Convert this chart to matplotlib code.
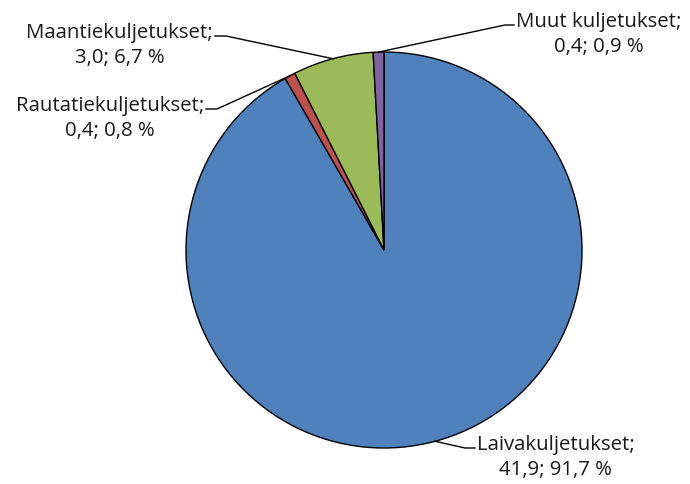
import numpy as np
import matplotlib
matplotlib.use("Agg")
from matplotlib import pyplot as plt

# Data
labels = ['Laivakuljetukset', 'Rautatiekuljetukset', 'Maantiekuljetukset', 'Muut kuljetukset']
values = [41.9, 0.4, 3.0, 0.4]
shares = ['91,7', '0,8', '6,7', '0,9']
value_text = ['41,9', '0,4', '3,0', '0,4']
colors = ['#4F81BD', '#C0504D', '#9BBB59', '#8064A2']

plt.rcParams['font.family'] = ['Open Sans', 'DejaVu Sans']

fig = plt.figure(figsize=(6.9, 4.84), dpi=100)
ax = fig.add_axes([0, 0, 1, 1])

cx, cy, r = 384, 484 - 250, 198
wedges, _ = ax.pie(values, colors=colors, startangle=90, counterclock=False,
                   center=(cx, cy), radius=r, frame=True,
                   wedgeprops=dict(edgecolor='black', linewidth=1.0))
ax.set_xlim(0, 690)
ax.set_ylim(0, 484)
ax.axis('off')

# label placement: (text anchor x, y of first line, ha, elbow x)
places = [
    (477, 484 - 445, 'left', 465),
    (204, 484 - 106, 'right', 217),
    (213, 484 - 33, 'right', 226),
    (516, 484 - 22, 'left', 505),
]

for w, lab, val, sh, (tx, ty, ha, ex) in zip(wedges, labels, value_text, shares, places):
    mid = np.deg2rad((w.theta1 + w.theta2) / 2)
    px = cx + r * np.cos(mid)
    py = cy + r * np.sin(mid)
    line1 = f'{lab};'
    line2 = f'{val}; {sh} %'
    t = ax.text(tx, ty, line1, ha=ha, va='center', fontsize=14.7, color='#1a1a1a')
    fig.canvas.draw()
    bb = t.get_window_extent().transformed(ax.transData.inverted())
    xc = (bb.x0 + bb.x1) / 2
    ax.text(xc, ty - 25, line2, ha='center', va='center', fontsize=14.7, color='#1a1a1a')
    lx = tx - 2 if ha == 'left' else tx + 2
    ax.plot([px, ex, lx], [py, ty - 3, ty - 3], color='black', linewidth=1.0)

fig.savefig('out.png', dpi=100)
